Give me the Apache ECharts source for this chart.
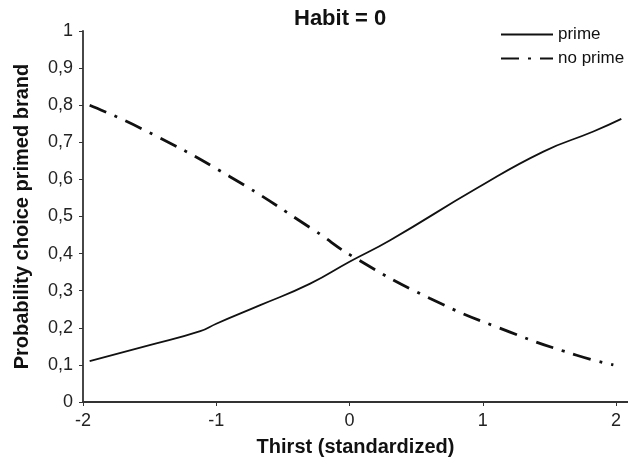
<!DOCTYPE html>
<html>
<head>
<meta charset="utf-8">
<script src="https://cdn.jsdelivr.net/npm/echarts@6/dist/echarts.min.js"></script>
<style>
  html, body { margin: 0; padding: 0; background: #fff; }
  #chart { width: 628px; height: 458px; }
</style>
</head>
<body>
<div id="chart"></div>
<script>
  // values
  const thirstTicks = [-2, -1, 0, 1, 2];
  const primeX = [-1.95, -1.5, -1.12, -1, -0.67, -0.295, 0, 0.305, 0.955, 1.455, 1.83, 2.04];
  const primeY = [0.11, 0.153, 0.191, 0.211, 0.261, 0.319, 0.378, 0.436, 0.576, 0.675, 0.729, 0.763];
  const noPrimeX = [-1.95, -1.545, -0.9, -0.27, 0.03, 0.605, 1.2, 1.705, 1.98];
  const noPrimeY = [0.80, 0.734, 0.608, 0.464, 0.391, 0.279, 0.189, 0.126, 0.10];

  const font = 'Liberation Sans, Arial, sans-serif';
  const ink = '#111';

  const chart = echarts.init(document.getElementById('chart'));
  chart.setOption({
    animation: false,
    textStyle: { fontFamily: font },
    title: {
      text: 'Habit = 0',
      left: 294,
      top: 8,
      padding: 0,
      textStyle: { fontFamily: font, fontSize: 22, fontWeight: 'bold', color: ink }
    },
    legend: {
      orient: 'vertical',
      left: 500,
      top: 26,
      padding: 0,
      itemWidth: 52,
      itemHeight: 14,
      itemGap: 7,
      itemStyle: { opacity: 0 },
      textStyle: { fontFamily: font, fontSize: 17, color: ink },
      data: ['prime', 'no prime']
    },
    grid: { left: 83, right: 0, top: 31, bottom: 56, containLabel: false, outerBoundsMode: 'none' },
    xAxis: {
      type: 'value',
      min: -2,
      max: 2.09,
      interval: 1,
      name: 'Thirst (standardized)',
      nameLocation: 'middle',
      nameGap: 35,
      nameTextStyle: { fontFamily: font, fontSize: 20, fontWeight: 'bold', color: ink },
      splitLine: { show: false },
      axisLine: { lineStyle: { color: '#333', width: 1.8 } },
      axisTick: { length: 4, lineStyle: { color: '#333' }, customValues: thirstTicks },
      axisLabel: { fontSize: 18, color: '#222', margin: 10, customValues: thirstTicks }
    },
    yAxis: {
      type: 'value',
      min: 0,
      max: 1,
      interval: 0.1,
      name: 'Probability choice primed brand',
      nameLocation: 'middle',
      nameGap: 51,
      nameTextStyle: { fontFamily: font, fontSize: 20, fontWeight: 'bold', color: ink },
      splitLine: { show: false },
      axisLine: { show: true, onZero: false, lineStyle: { color: '#333', width: 1.8 } },
      axisTick: { show: true, length: 4, lineStyle: { color: '#333' } },
      axisLabel: {
        fontSize: 18,
        color: '#222',
        margin: 10,
        formatter: v => String(Math.round(v * 10) / 10).replace('.', ',')
      }
    },
    series: [
      {
        name: 'prime',
        type: 'line',
        smooth: true,
        showSymbol: false,
        symbol: 'none',
        data: primeX.map((x, i) => [x, primeY[i]]),
        lineStyle: { color: ink, width: 1.8 },
        itemStyle: { color: ink }
      },
      {
        name: 'no prime',
        type: 'line',
        smooth: true,
        showSymbol: false,
        symbol: 'none',
        data: noPrimeX.map((x, i) => [x, noPrimeY[i]]),
        lineStyle: { color: ink, width: 2.8, type: [18, 9, 3, 9] },
        itemStyle: { color: ink }
      }
    ]
  });
</script>
</body>
</html>
